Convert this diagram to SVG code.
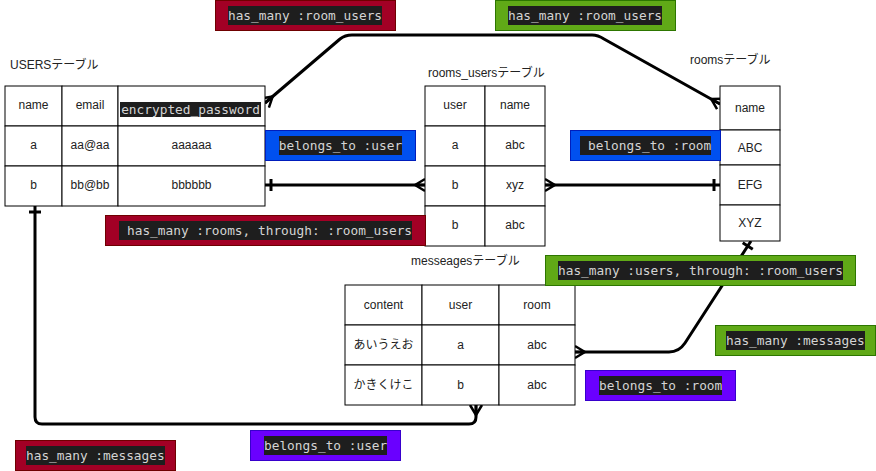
<svg xmlns="http://www.w3.org/2000/svg" width="876" height="471" viewBox="0 0 876 471">
<style>
.cell{fill:#fff;stroke:#000;stroke-width:1}
.t{font-family:"Liberation Sans","Noto Sans CJK JP",sans-serif;font-size:12px;fill:#222;text-anchor:middle}
.ttl{font-family:"Liberation Sans","Noto Sans CJK JP",sans-serif;font-size:12px;fill:#222}
.code{font-family:"DejaVu Sans Mono",monospace;font-size:12.8px;fill:#d4d4d4}
.bg{fill:#1e1e1e}
.red{fill:#a20025;stroke:#6f0000}
.green{fill:#60a917;stroke:#2d7600}
.blue{fill:#0050ef;stroke:#001dbc}
.purple{fill:#6a00ff;stroke:#3700cc}
.conn{fill:none;stroke:#000;stroke-width:3;stroke-linejoin:round}
</style>
<defs>
<marker id="many" viewBox="0 -8 12 16" markerWidth="12" markerHeight="16" refX="11" refY="0" orient="auto-start-reverse" markerUnits="userSpaceOnUse">
<path d="M1,0 L11,0 M1,0 L11,-6 M1,0 L11,6" stroke="#000" stroke-width="2.5" fill="none"/>
</marker>
<marker id="one" viewBox="0 -8 12 16" markerWidth="12" markerHeight="16" refX="11" refY="0" orient="auto-start-reverse" markerUnits="userSpaceOnUse">
<path d="M5,-6 L5,6" stroke="#000" stroke-width="3" fill="none"/>
</marker>
</defs>
<rect width="876" height="471" fill="#fff"/>
<g id="connectors">
<path class="conn" d="M265,103 L340,39 Q345,35 352,35 L592,35 Q598,35 604,39 L720,104" marker-start="url(#many)" marker-end="url(#many)"/>
<path class="conn" d="M265,185 L425,185" marker-start="url(#one)" marker-end="url(#many)"/>
<path class="conn" d="M545,185 L720,185" marker-start="url(#many)" marker-end="url(#one)"/>
<path class="conn" d="M751,241 L685,343 Q679,352 669,352 L575,352" marker-start="url(#one)" marker-end="url(#many)"/>
<path class="conn" d="M35,206 L35,417 Q35,424 42,424 L469,424 Q476,424 476,417 L476,405" marker-start="url(#one)" marker-end="url(#many)"/>
</g>
<g id="users-table">
<text class="ttl" x="10" y="69">USERSテーブル</text>
<rect class="cell" x="5" y="86" width="57" height="40"/>
<rect class="cell" x="62" y="86" width="56" height="40"/>
<rect class="cell" x="118" y="86" width="147" height="40"/>
<rect class="cell" x="5" y="126" width="57" height="40"/>
<rect class="cell" x="62" y="126" width="56" height="40"/>
<rect class="cell" x="118" y="126" width="147" height="40"/>
<rect class="cell" x="5" y="166" width="57" height="40"/>
<rect class="cell" x="62" y="166" width="56" height="40"/>
<rect class="cell" x="118" y="166" width="147" height="40"/>
<text class="t" x="33.5" y="109">name</text>
<text class="t" x="90" y="109">email</text>
<rect class="bg" x="120" y="102" width="141" height="15"/>
<text class="code" x="190.5" y="114" text-anchor="middle">encrypted_password</text>
<text class="t" x="33.5" y="149">a</text>
<text class="t" x="90" y="149">aa@aa</text>
<text class="t" x="191.5" y="149">aaaaaa</text>
<text class="t" x="33.5" y="189">b</text>
<text class="t" x="90" y="189">bb@bb</text>
<text class="t" x="191.5" y="189">bbbbbb</text>
</g>
<g id="rooms-users-table">
<text class="ttl" x="428" y="77">rooms_usersテーブル</text>
<rect class="cell" x="425" y="86" width="60" height="40"/>
<rect class="cell" x="485" y="86" width="60" height="40"/>
<rect class="cell" x="425" y="126" width="60" height="40"/>
<rect class="cell" x="485" y="126" width="60" height="40"/>
<rect class="cell" x="425" y="166" width="60" height="40"/>
<rect class="cell" x="485" y="166" width="60" height="40"/>
<rect class="cell" x="425" y="206" width="60" height="40"/>
<rect class="cell" x="485" y="206" width="60" height="40"/>
<text class="t" x="455" y="109">user</text>
<text class="t" x="515" y="109">name</text>
<text class="t" x="455" y="149">a</text>
<text class="t" x="515" y="149">abc</text>
<text class="t" x="455" y="189">b</text>
<text class="t" x="515" y="189">xyz</text>
<text class="t" x="455" y="229">b</text>
<text class="t" x="515" y="229">abc</text>
</g>
<g id="rooms-table">
<text class="ttl" x="690" y="64">roomsテーブル</text>
<rect class="cell" x="720" y="86" width="60" height="44"/>
<rect class="cell" x="720" y="130" width="60" height="35"/>
<rect class="cell" x="720" y="165" width="60" height="40"/>
<rect class="cell" x="720" y="205" width="60" height="36"/>
<text class="t" x="750" y="112">name</text>
<text class="t" x="750" y="152">ABC</text>
<text class="t" x="750" y="189">EFG</text>
<text class="t" x="750" y="227">XYZ</text>
</g>
<g id="messages-table">
<text class="ttl" x="411" y="265">messeagesテーブル</text>
<rect class="cell" x="345" y="285" width="77" height="40"/>
<rect class="cell" x="422" y="285" width="77" height="40"/>
<rect class="cell" x="499" y="285" width="76" height="40"/>
<rect class="cell" x="345" y="325" width="77" height="40"/>
<rect class="cell" x="422" y="325" width="77" height="40"/>
<rect class="cell" x="499" y="325" width="76" height="40"/>
<rect class="cell" x="345" y="365" width="77" height="40"/>
<rect class="cell" x="422" y="365" width="77" height="40"/>
<rect class="cell" x="499" y="365" width="76" height="40"/>
<text class="t" x="383.5" y="309">content</text>
<text class="t" x="460.5" y="309">user</text>
<text class="t" x="537" y="309">room</text>
<text class="t" x="383.5" y="349">あいうえお</text>
<text class="t" x="460.5" y="349">a</text>
<text class="t" x="537" y="349">abc</text>
<text class="t" x="383.5" y="389">かきくけこ</text>
<text class="t" x="460.5" y="389">b</text>
<text class="t" x="537" y="389">abc</text>
</g>
<g id="label-users-has-many-room-users">
<rect class="red" x="215.5" y="0.5" width="180" height="30"/>
<rect class="bg" x="228" y="6" width="154" height="19"/>
<text class="code" x="305" y="20" text-anchor="middle">has_many :room_users</text>
</g>
<g id="label-rooms-has-many-room-users">
<rect class="green" x="495.5" y="0.5" width="180" height="30"/>
<rect class="bg" x="508" y="6" width="154" height="19"/>
<text class="code" x="585" y="20" text-anchor="middle">has_many :room_users</text>
</g>
<g id="label-belongs-to-user">
<rect class="blue" x="265.5" y="130.5" width="150" height="30"/>
<rect class="bg" x="279" y="136" width="123" height="19"/>
<text class="code" x="340.5" y="150" text-anchor="middle">belongs_to :user</text>
</g>
<g id="label-belongs-to-room">
<rect class="blue" x="570.5" y="130.5" width="150" height="30"/>
<rect class="bg" x="580" y="136" width="131" height="19"/>
<text class="code" x="588" y="150">belongs_to :room</text>
</g>
<g id="label-users-through">
<rect class="red" x="105.5" y="215.5" width="320" height="30"/>
<rect class="bg" x="119" y="221" width="293" height="19"/>
<text class="code" x="127" y="235">has_many :rooms, through: :room_users</text>
</g>
<g id="label-rooms-through">
<rect class="green" x="545.5" y="255.5" width="310" height="30"/>
<rect class="bg" x="558" y="261" width="285" height="19"/>
<text class="code" x="558" y="275">has_many :users, through: :room_users</text>
</g>
<g id="label-rooms-has-many-messages">
<rect class="green" x="715.5" y="325.5" width="160" height="30"/>
<rect class="bg" x="726" y="331" width="139" height="19"/>
<text class="code" x="726" y="345">has_many :messages</text>
</g>
<g id="label-messages-belongs-to-room">
<rect class="purple" x="585.5" y="370.5" width="150" height="30"/>
<rect class="bg" x="599" y="376" width="123" height="19"/>
<text class="code" x="599" y="390">belongs_to :room</text>
</g>
<g id="label-messages-belongs-to-user">
<rect class="purple" x="250.5" y="430.5" width="150" height="30"/>
<rect class="bg" x="264" y="436" width="123" height="19"/>
<text class="code" x="264" y="450">belongs_to :user</text>
</g>
<g id="label-users-has-many-messages">
<rect class="red" x="15.5" y="440.5" width="160" height="30"/>
<rect class="bg" x="26" y="446" width="139" height="19"/>
<text class="code" x="26" y="460">has_many :messages</text>
</g>
</svg>
